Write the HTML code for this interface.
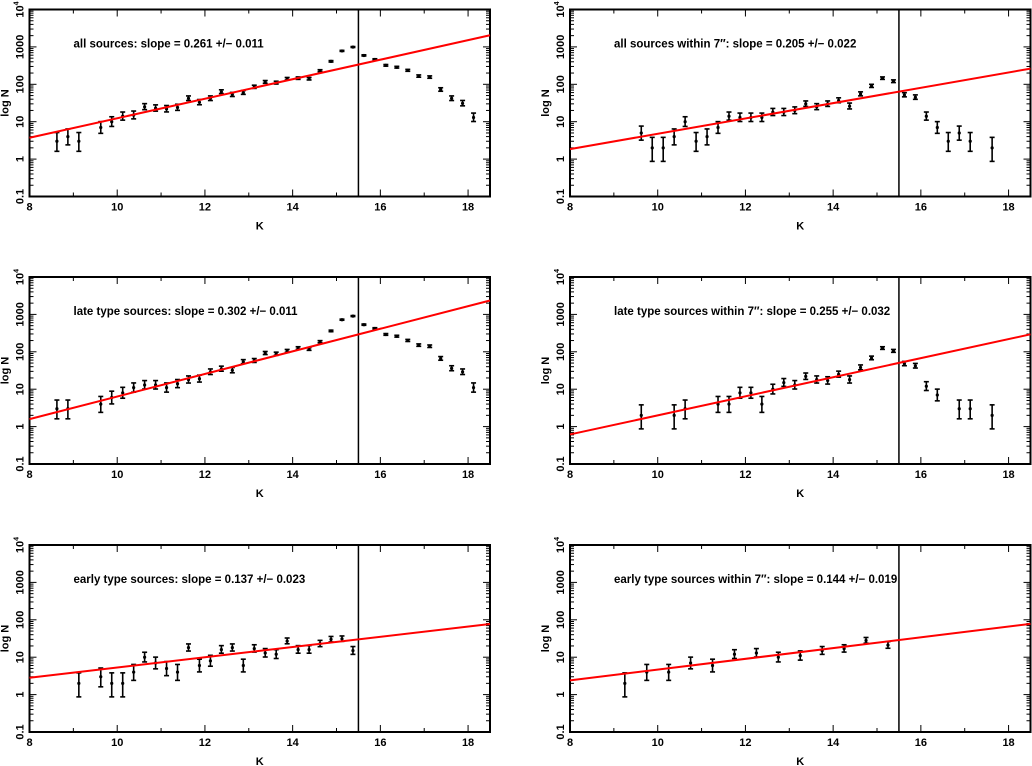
<!DOCTYPE html>
<html><head><meta charset="utf-8"><style>
html,body{margin:0;padding:0;background:#fff;}
svg{display:block;font-family:"Liberation Sans",Arial,sans-serif;}
</style></head>
<body>
<svg id="fig" width="1032" height="766" viewBox="0 0 1032 766" xmlns="http://www.w3.org/2000/svg"></svg>
<script>
// ---- data ----
const titles = [
 "all sources: slope = 0.261 +/\u2212 0.011",
 "all sources within 7\u2033: slope = 0.205 +/\u2212 0.022",
 "late type sources: slope = 0.302 +/\u2212 0.011",
 "late type sources within 7\u2033: slope = 0.255 +/\u2212 0.032",
 "early type sources: slope = 0.137 +/\u2212 0.023",
 "early type sources within 7\u2033: slope = 0.144 +/\u2212 0.019"
];
const fitIntercepts = [0.57, 0.267, 0.20, -0.21, 0.45, 0.38]; // log N at K=8
const fitSlopes = [0.261, 0.205, 0.302, 0.255, 0.137, 0.144];
const cutK = 15.5;
const xTicks = [8,10,12,14,16,18];
const yTickLabels = ["0.1","1","10","100","1000"];

const k1 = [8.625,8.875,9.125,9.625,9.875,10.125,10.375,10.625,10.875,11.125,11.375,11.625,11.875,12.125,12.375,12.625,12.875,13.125,13.375,13.625,13.875,14.125,14.375,14.625,14.875,15.125,15.375,15.625,15.875,16.125,16.375,16.625,16.875,17.125,17.375,17.625,17.875,18.125];
const n1 = [3,4,3,7,10,14,15,25,23,22,24,42,33,42,63,53,60,85,115,110,140,145,140,230,410,780,990,590,460,320,285,235,165,155,72,42,31,13];

const k2 = [9.625,9.875,10.125,10.375,10.625,10.875,11.125,11.375,11.625,11.875,12.125,12.375,12.625,12.875,13.125,13.375,13.625,13.875,14.125,14.375,14.625,14.875,15.125,15.375,15.625,15.875,16.125,16.375,16.625,16.875,17.125,17.625];
const n2 = [5,2,2,4,10,3,4,7,14,13,13,13,18,18,20,30,25,30,37,26,55,90,145,120,52,45,14,7,3,5,3,2];

const k3 = [8.625,8.875,9.625,9.875,10.125,10.375,10.625,10.875,11.125,11.375,11.625,11.875,12.125,12.375,12.625,12.875,13.125,13.375,13.625,13.875,14.125,14.375,14.625,14.875,15.125,15.375,15.625,15.875,16.125,16.375,16.625,16.875,17.125,17.375,17.625,17.875,18.125];
const n3 = [3,3,4,6,8,11,13,13,11,14,18,19,29,35,32,54,58,92,88,105,125,118,185,360,720,900,530,420,290,260,200,150,140,66,36,29,11];

const k4 = [9.625,10.375,10.625,11.375,11.625,11.875,12.125,12.375,12.625,12.875,13.125,13.375,13.625,13.875,14.125,14.375,14.625,14.875,15.125,15.375,15.625,15.875,16.125,16.375,16.875,17.125,17.625];
const n4 = [2,2,3,4,4,8,8,4,10,15,13,22,18,17,25,18,38,68,125,105,48,42,12,7,3,3,2];

const k5 = [9.125,9.625,9.875,10.125,10.375,10.625,10.875,11.125,11.375,11.625,11.875,12.125,12.375,12.625,12.875,13.125,13.375,13.625,13.875,14.125,14.375,14.625,14.875,15.125,15.375];
const n5 = [2,3,2,2,4,10,7,5,4,18,6,8,16,18,6,17,13,12,27,16,16,23,30,31,15];

const k6 = [9.25,9.75,10.25,10.75,11.25,11.75,12.25,12.75,13.25,13.75,14.25,14.75,15.25];
const n6 = [2,4,4,7,6,12,13,10,11,15,17,28,21];

const panelK = [k1,k2,k3,k4,k5,k6];
const panelN = [n1,n2,n3,n4,n5,n6];

// ---- layout ----
const NS = "http://www.w3.org/2000/svg";
const svg = document.getElementById("fig");
const colX = [29.5, 570];
const rowY = [9.5, 277, 545];
const PW = 460.5, PH = 187;
function mk(tag, attrs, parent){
  const e = document.createElementNS(NS, tag);
  for (const a in attrs) e.setAttribute(a, attrs[a]);
  (parent||svg).appendChild(e);
  return e;
}

for (let p = 0; p < 6; p++) {
  const x0 = colX[p%2], y0 = rowY[Math.floor(p/2)];
  const g = mk("g", {});
  
  
  const X = k => x0 + (k - 8) / 10.5 * PW;
  const Y = n => y0 + (4 - Math.log10(n)) / 5 * PH;

  // ticks
  const tk = mk("g", {stroke:"#000","stroke-width":1}, g);
  
  
  for (let k = 8; k <= 18; k++) {
    const L = (k % 2 === 0) ? 7 : 4;
    mk("line", {x1:X(k), x2:X(k), y1:y0+PH, y2:y0+PH-L}, tk);
    mk("line", {x1:X(k), x2:X(k), y1:y0, y2:y0+L}, tk);
  }
  for (let d = -1; d < 4; d++) {
    for (let m = 1; m <= 9; m++) {
      const yy = Y(m * Math.pow(10, d));
      const L = m === 1 ? 7 : 4;
      mk("line", {x1:x0, x2:x0+L, y1:yy, y2:yy}, tk);
      mk("line", {x1:x0+PW, x2:x0+PW-L, y1:yy, y2:yy}, tk);
    }
  }
  // frame
  const fr = mk("rect", {x:x0, y:y0, width:PW, height:PH, fill:"none", stroke:"#000", "stroke-width":2}, g);
  
  

  // x tick labels
  xTicks.forEach(k => {
    const t = mk("text", {x:X(k), y:y0+PH+14, "text-anchor":"middle", "font-size":11, "font-weight":"bold"}, g);
    
    
    t.textContent = k;
  });
  // y tick labels (rotated)
  yTickLabels.forEach((lab, i) => {
    const yy = Y(Math.pow(10, i - 1));
    const t = mk("text", {x:0, y:0, transform:`translate(${x0-6},${yy}) rotate(-90)`, "text-anchor":"middle", "font-size":11, "font-weight":"bold"}, g);
    
    
    t.textContent = lab;
  });
  const t4 = mk("text", {x:0, y:0, transform:`translate(${x0-6},${Y(1e4)}) rotate(-90)`, "text-anchor":"middle", "font-size":11, "font-weight":"bold"}, g);
  
  
  t4.innerHTML = '10<tspan dy="-5" font-size="7">4</tspan>';

  // axis titles
  const yt = mk("text", {x:0, y:0, transform:`translate(${x0-21},${y0+PH/2}) rotate(-90)`, "text-anchor":"middle", "font-size":11, "font-weight":"bold"}, g);
  
  
  yt.textContent = "log N";
  const xt = mk("text", {x:x0+PW/2, y:y0+PH+33, "text-anchor":"middle", "font-size":11, "font-weight":"bold"}, g);
  
  
  xt.textContent = "K";

  // title
  const tt = mk("text", {x:x0+44, y:y0+38, "font-size":11.5, "font-weight":"bold"}, g);
  
  
  tt.textContent = titles[p];

  // vertical cut line
  const vl = mk("line", {x1:X(cutK), x2:X(cutK), y1:y0, y2:y0+PH, stroke:"#000", "stroke-width":1.5}, g);
  
  

  // data points
  const ks = panelK[p], ns = panelN[p];
  for (let i = 0; i < ks.length; i++) {
    const n = ns[i], s = Math.sqrt(n);
    const lo = n - 0.8 * s, hi = n + s + 0.4;
    const cx = X(ks[i]);
    const pg = mk("g", {stroke:"#000","stroke-width":1.6}, g);
    
    
    mk("line", {x1:cx, x2:cx, y1:Y(lo), y2:Y(hi)}, pg);
    mk("line", {x1:cx-2.5, x2:cx+2.5, y1:Y(lo), y2:Y(lo)}, pg);
    mk("line", {x1:cx-2.5, x2:cx+2.5, y1:Y(hi), y2:Y(hi)}, pg);
    mk("circle", {cx:cx, cy:Y(n), r:1.6, fill:"#000", stroke:"none"}, pg);
  }

  // fit line
  const a = fitIntercepts[p], b = fitSlopes[p];
  const fl = mk("line", {x1:X(8), y1:Y(Math.pow(10,a)), x2:X(18.5), y2:Y(Math.pow(10,a+b*10.5)), stroke:"#ff0000", "stroke-width":2}, g);
  
  
}
</script>
</body></html>
